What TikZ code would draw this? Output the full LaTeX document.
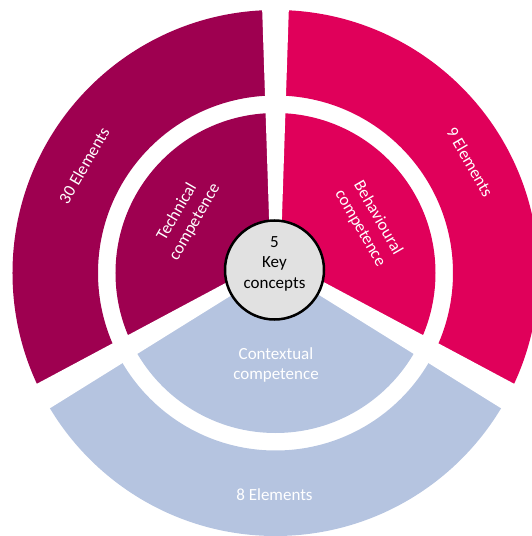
\documentclass[tikz,border=0pt]{standalone}
\usepackage{fontspec}
\setmainfont{Carlito}
\usetikzlibrary{calc}

\definecolor{techcol}{RGB}{158,0,80}
\definecolor{behavcol}{RGB}{224,0,90}
\definecolor{contextcol}{RGB}{181,196,224}
\definecolor{corecol}{RGB}{225,225,225}

\begin{document}
\begin{tikzpicture}[x=1pt,y=1pt,
  lbl/.style={text=white,font=\fontsize{17}{20.5}\selectfont,align=center,inner sep=0pt},
  corelbl/.style={text=black,font=\fontsize{17}{20.5}\selectfont,align=center,inner sep=0pt},
  corebox/.style={circle,draw=black,line width=2.5pt,fill=corecol,minimum size=99pt,inner sep=0pt},
  gapfill/.style={fill=white},
]
\useasboundingbox (-275.5,-263) rectangle (256.5,273);

% ring centre and the point where the three separating gaps meet
\coordinate (O) at (0,0);
\coordinate (J) at (0,11);

% three competence areas: inner disc + outer annulus, each cut to its 120 degree wedge
\foreach \from/\to/\col in {90/210/techcol, -30/90/behavcol, 210/330/contextcol}{
  \begin{scope}
    \clip (J) -- ($(J)+(\from:600)$) -- ($(J)+(\to:600)$) -- cycle;
    \fill[\col,even odd rule] (O) circle[radius=263] (O) circle[radius=177.5];
    \fill[\col] (O) circle[radius=160];
  \end{scope}
}

% white separating gaps, slightly widening outwards
\foreach \a in {90,210,330}{
  \fill[gapfill] ($(J)+(\a+90:5)$) -- ($(J)+(\a:300)+(\a+90:14.9)$)
    -- ($(J)+(\a:300)+(\a-90:14.9)$) -- ($(J)+(\a-90:5)$) -- cycle;
}

% centre disc
\node[corebox] (core) at (-1,3) {};
\node[corelbl] (corelabel) at (-1,9.5) {5\\Key\\concepts};

% inner ring labels
\node[lbl,rotate=60] (tech) at (-89.5,56) {Technical\\competence};
\node[lbl,rotate=-60] (behav) at (93.5,50) {Behavioural\\competence};
\node[lbl] (context) at (0.5,-92) {Contextual\\competence};

% outer ring labels
\node[lbl,rotate=60] (techel) at (-191.5,107.6) {30 Elements};
\node[lbl,rotate=-60] (behavel) at (194.5,111) {9 Elements};
\node[lbl] (contextel) at (-1,-222) {8 Elements};
\end{tikzpicture}
\end{document}
